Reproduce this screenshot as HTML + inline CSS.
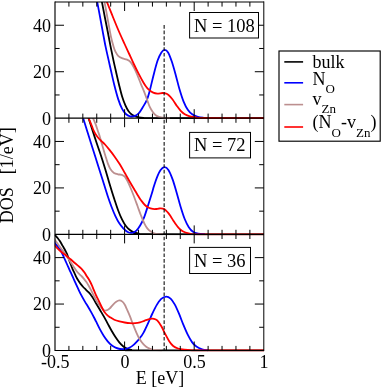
<!DOCTYPE html>
<html><head><meta charset="utf-8"><title>DOS</title><style>html,body{margin:0;padding:0;background:#fff}svg{display:block;will-change:transform}text{font-family:"Liberation Serif",serif;fill:#000}</style></head><body>
<svg width="382" height="388" viewBox="0 0 382 388">
<rect width="382" height="388" fill="#fff"/>
<defs>
<clipPath id="cp1"><rect x="54.70" y="2.00" width="210.00" height="117.40"/></clipPath>
<clipPath id="cp2"><rect x="54.70" y="118.20" width="210.00" height="117.40"/></clipPath>
<clipPath id="cp3"><rect x="54.70" y="234.40" width="210.00" height="117.30"/></clipPath>
</defs>
<g clip-path="url(#cp1)" fill="none" stroke-width="1.80" stroke-linejoin="round">
<path d="M101.00 -3.12 C101.17 -2.22 101.37 -1.05 102.00 2.30 C102.63 5.65 103.85 12.09 104.80 16.96 C105.75 21.83 106.75 26.68 107.70 31.53 C108.65 36.39 109.55 41.32 110.50 46.09 C111.45 50.86 112.52 56.03 113.40 60.15 C114.28 64.27 114.85 66.66 115.80 70.80 C116.75 74.94 118.03 80.62 119.10 84.96 C120.17 89.29 121.15 93.39 122.20 96.81 C123.25 100.23 124.37 103.09 125.40 105.45 C126.43 107.81 127.40 109.52 128.40 110.97 C129.40 112.42 130.27 113.31 131.40 114.18 C132.53 115.05 133.98 115.67 135.20 116.19 C136.42 116.71 137.33 117.02 138.70 117.30 C140.07 117.58 141.52 117.77 143.40 117.90 C145.28 118.03 129.90 118.07 150.00 118.10 C170.10 118.13 245.00 118.10 264.00 118.10" stroke="#000000"/>
<path d="M96.40 -3.12 C96.55 -2.22 96.73 -0.83 97.30 2.30 C97.87 5.43 98.90 10.80 99.80 15.66 C100.70 20.52 101.72 26.18 102.70 31.43 C103.68 36.69 104.72 42.40 105.70 47.19 C106.68 51.98 107.72 56.21 108.60 60.15 C109.48 64.08 110.05 66.66 111.00 70.80 C111.95 74.94 113.10 80.24 114.30 84.96 C115.50 89.68 116.92 95.17 118.20 99.12 C119.48 103.07 120.73 106.18 122.00 108.66 C123.27 111.14 124.47 112.71 125.80 113.98 C127.13 115.25 128.55 115.94 130.00 116.29 C131.45 116.64 133.05 116.58 134.50 116.09 C135.95 115.61 137.30 114.89 138.70 113.38 C140.10 111.87 141.53 109.31 142.90 107.05 C144.27 104.79 145.78 102.45 146.90 99.82 C148.02 97.19 148.48 95.43 149.60 91.28 C150.72 87.13 152.27 80.03 153.60 74.91 C154.93 69.79 156.30 64.30 157.60 60.55 C158.90 56.80 160.22 54.19 161.40 52.42 C162.58 50.65 163.58 49.91 164.70 49.91 C165.82 49.91 166.92 50.48 168.10 52.42 C169.28 54.36 170.53 57.81 171.80 61.56 C173.07 65.31 174.42 70.29 175.70 74.91 C176.98 79.53 178.18 84.83 179.50 89.28 C180.82 93.73 182.22 98.22 183.60 101.63 C184.98 105.04 186.37 107.65 187.80 109.76 C189.23 111.87 190.53 113.11 192.20 114.28 C193.87 115.45 195.90 116.20 197.80 116.79 C199.70 117.38 201.73 117.58 203.60 117.80 C205.47 118.02 208.10 118.05 209.00 118.10" stroke="#0000ff"/>
<path d="M103.70 -3.12 C103.85 -2.22 104.13 -0.31 104.60 2.30 C105.07 4.91 105.80 8.75 106.50 12.55 C107.20 16.35 108.02 20.90 108.80 25.10 C109.58 29.30 110.43 34.25 111.20 37.75 C111.97 41.25 112.72 43.81 113.40 46.09 C114.08 48.37 114.47 49.75 115.30 51.41 C116.13 53.07 117.18 54.86 118.40 56.03 C119.62 57.20 121.17 57.84 122.60 58.44 C124.03 59.04 125.67 59.03 127.00 59.65 C128.33 60.27 129.40 60.75 130.60 62.16 C131.80 63.56 133.03 65.84 134.20 68.08 C135.37 70.32 136.47 72.96 137.60 75.62 C138.72 78.28 139.85 81.34 140.95 84.05 C142.05 86.76 143.14 89.18 144.20 91.89 C145.26 94.60 146.35 97.77 147.30 100.32 C148.25 102.87 148.98 105.25 149.90 107.20 C150.82 109.15 151.83 110.67 152.80 112.00 C153.77 113.33 154.68 114.39 155.70 115.19 C156.72 115.99 157.52 116.36 158.90 116.79 C160.28 117.23 162.15 117.58 164.00 117.80 C165.85 118.02 169.00 118.05 170.00 118.10" stroke="#bc8f8f"/>
<path d="M104.90 -3.12 C105.25 -2.23 105.87 -0.65 107.00 2.20 C108.13 5.04 109.82 9.32 111.70 13.95 C113.58 18.58 116.15 24.99 118.30 30.00 C120.45 35.01 122.78 40.00 124.60 44.00 C126.42 48.00 127.67 50.67 129.20 54.00 C130.73 57.33 132.23 60.72 133.80 64.00 C135.37 67.28 137.00 70.62 138.60 73.71 C140.20 76.80 142.17 80.41 143.40 82.55 C144.63 84.69 145.10 85.37 146.00 86.56 C146.90 87.75 147.60 88.66 148.80 89.68 C150.00 90.70 151.78 92.04 153.20 92.69 C154.62 93.34 155.77 93.54 157.30 93.59 C158.83 93.64 161.05 93.02 162.40 92.99 C163.75 92.96 164.38 93.06 165.40 93.39 C166.42 93.72 167.30 93.98 168.50 95.00 C169.70 96.02 171.23 97.74 172.60 99.52 C173.97 101.30 175.35 103.76 176.70 105.65 C178.05 107.54 179.35 109.43 180.70 110.87 C182.05 112.31 183.27 113.36 184.80 114.28 C186.33 115.20 188.03 115.85 189.90 116.39 C191.77 116.93 193.48 117.23 196.00 117.50 C198.52 117.77 193.67 117.90 205.00 118.00 C216.33 118.10 254.17 118.08 264.00 118.10" stroke="#ff0000"/>
</g>
<g clip-path="url(#cp2)" fill="none" stroke-width="1.80" stroke-linejoin="round">
<path d="M86.80 112.70 C87.10 113.63 87.75 115.68 88.60 118.30 C89.45 120.92 90.60 124.40 91.90 128.40 C93.20 132.40 94.87 137.70 96.40 142.30 C97.93 146.90 99.63 151.55 101.10 156.00 C102.57 160.45 103.88 164.67 105.20 169.00 C106.52 173.33 107.83 178.08 109.00 182.00 C110.17 185.92 111.32 189.67 112.20 192.50 C113.08 195.33 113.32 196.05 114.30 199.00 C115.28 201.95 116.82 206.80 118.10 210.20 C119.38 213.60 120.70 216.77 122.00 219.40 C123.30 222.03 124.58 224.23 125.90 226.00 C127.22 227.77 128.58 228.95 129.90 230.00 C131.22 231.05 132.28 231.70 133.80 232.30 C135.32 232.90 137.25 233.28 139.00 233.60 C140.75 233.92 123.47 234.08 144.30 234.20 C165.13 234.32 244.05 234.28 264.00 234.30" stroke="#000000"/>
<path d="M81.50 112.70 C81.78 113.63 81.90 114.12 83.20 118.30 C84.50 122.48 87.27 131.33 89.30 137.80 C91.33 144.27 93.45 150.96 95.40 157.10 C97.35 163.24 99.63 170.33 101.00 174.65 C102.37 178.97 102.50 179.49 103.60 183.00 C104.70 186.51 106.28 191.75 107.60 195.70 C108.92 199.65 110.20 203.30 111.50 206.70 C112.80 210.10 114.10 213.33 115.40 216.10 C116.70 218.87 117.98 221.27 119.30 223.30 C120.62 225.33 121.82 226.80 123.30 228.30 C124.78 229.80 126.67 231.55 128.20 232.30 C129.73 233.05 131.13 233.08 132.50 232.80 C133.87 232.52 135.10 231.85 136.40 230.60 C137.70 229.35 138.98 227.60 140.30 225.30 C141.62 223.00 142.98 220.18 144.30 216.80 C145.62 213.42 147.00 208.72 148.20 205.00 C149.40 201.28 150.53 197.67 151.50 194.50 C152.47 191.33 153.12 188.78 154.00 186.00 C154.88 183.22 155.70 180.45 156.80 177.80 C157.90 175.15 159.33 171.87 160.60 170.10 C161.87 168.33 163.10 167.23 164.40 167.20 C165.70 167.17 167.05 167.92 168.40 169.90 C169.75 171.88 171.13 175.35 172.50 179.10 C173.87 182.85 175.25 187.80 176.60 192.40 C177.95 197.00 179.25 202.27 180.60 206.70 C181.95 211.13 183.33 215.58 184.70 219.00 C186.07 222.42 187.42 225.07 188.80 227.20 C190.18 229.33 191.45 230.73 193.00 231.80 C194.55 232.87 196.10 233.20 198.10 233.60 C200.10 234.00 203.85 234.10 205.00 234.20" stroke="#0000ff"/>
<path d="M90.20 112.70 C90.68 113.63 92.18 116.35 93.10 118.30 C94.02 120.25 94.92 122.33 95.70 124.40 C96.48 126.47 97.10 128.62 97.80 130.70 C98.50 132.78 99.20 134.63 99.90 136.90 C100.60 139.17 101.32 141.90 102.00 144.30 C102.68 146.70 103.40 149.27 104.00 151.30 C104.60 153.33 104.92 154.35 105.60 156.50 C106.28 158.65 107.25 162.02 108.10 164.20 C108.95 166.38 109.72 168.15 110.70 169.60 C111.68 171.05 112.80 172.12 114.00 172.90 C115.20 173.68 116.60 173.98 117.90 174.30 C119.20 174.62 120.65 174.42 121.80 174.80 C122.95 175.18 123.85 175.53 124.80 176.60 C125.75 177.67 126.53 179.30 127.50 181.20 C128.47 183.10 129.58 185.62 130.60 188.00 C131.62 190.38 132.43 192.45 133.60 195.50 C134.77 198.55 136.37 202.97 137.60 206.30 C138.83 209.63 139.88 212.67 141.00 215.50 C142.12 218.33 143.22 221.12 144.30 223.30 C145.38 225.48 146.42 227.22 147.50 228.60 C148.58 229.98 149.70 230.82 150.80 231.60 C151.90 232.38 152.82 232.88 154.10 233.30 C155.38 233.72 157.02 233.93 158.50 234.10 C159.98 234.27 162.25 234.27 163.00 234.30" stroke="#bc8f8f"/>
<path d="M86.60 112.68 C86.95 113.62 88.07 116.68 88.70 118.30 C89.33 119.92 89.85 121.05 90.40 122.41 C90.95 123.77 91.45 125.06 92.00 126.43 C92.55 127.80 93.03 129.23 93.70 130.64 C94.37 132.04 95.18 133.59 96.00 134.86 C96.82 136.13 97.68 137.22 98.60 138.27 C99.52 139.32 100.43 140.14 101.50 141.18 C102.57 142.22 103.67 143.05 105.00 144.50 C106.33 145.95 107.92 147.92 109.50 149.90 C111.08 151.88 112.78 154.00 114.50 156.40 C116.22 158.80 118.05 161.48 119.80 164.30 C121.55 167.12 123.27 170.27 125.00 173.30 C126.73 176.33 128.47 179.52 130.20 182.50 C131.93 185.48 134.00 188.85 135.40 191.20 C136.80 193.55 137.63 195.05 138.60 196.60 C139.57 198.15 140.15 199.10 141.20 200.50 C142.25 201.90 143.62 203.78 144.90 205.00 C146.18 206.22 147.53 207.15 148.85 207.80 C150.17 208.45 151.61 208.70 152.80 208.90 C153.99 209.10 154.92 209.07 156.00 209.00 C157.08 208.93 158.00 208.52 159.30 208.50 C160.60 208.48 162.38 208.25 163.80 208.90 C165.22 209.55 166.67 211.17 167.80 212.40 C168.93 213.63 169.70 214.97 170.60 216.30 C171.50 217.63 172.33 219.07 173.20 220.40 C174.07 221.73 174.97 223.13 175.80 224.30 C176.63 225.47 177.40 226.50 178.20 227.40 C179.00 228.30 179.77 229.02 180.60 229.70 C181.43 230.38 182.22 230.97 183.20 231.50 C184.18 232.03 185.28 232.52 186.50 232.90 C187.72 233.28 188.58 233.57 190.50 233.80 C192.42 234.03 185.75 234.22 198.00 234.30 C210.25 234.38 253.00 234.30 264.00 234.30" stroke="#ff0000"/>
</g>
<g clip-path="url(#cp3)" fill="none" stroke-width="1.80" stroke-linejoin="round">
<path d="M51.00 230.80 C51.68 231.53 53.97 233.97 55.10 235.20 C56.23 236.43 57.01 237.22 57.80 238.20 C58.59 239.18 59.07 239.87 59.85 241.10 C60.63 242.33 61.73 244.28 62.50 245.60 C63.27 246.92 63.88 247.87 64.50 249.00 C65.12 250.13 65.68 251.32 66.20 252.40 C66.72 253.48 67.13 254.30 67.60 255.50 C68.07 256.70 68.45 258.05 69.00 259.60 C69.55 261.15 70.27 263.13 70.90 264.80 C71.53 266.47 72.18 268.18 72.80 269.60 C73.42 271.02 74.03 272.10 74.60 273.30 C75.17 274.50 75.63 275.68 76.20 276.80 C76.77 277.92 77.27 278.82 78.00 280.00 C78.73 281.18 79.73 282.68 80.60 283.85 C81.47 285.02 82.33 286.04 83.20 287.00 C84.08 287.96 84.97 288.73 85.85 289.60 C86.73 290.47 87.62 291.27 88.50 292.20 C89.38 293.13 90.35 294.23 91.10 295.20 C91.85 296.17 92.18 296.67 93.00 298.00 C93.82 299.33 94.90 301.32 96.00 303.20 C97.10 305.08 98.30 307.10 99.60 309.30 C100.90 311.50 102.45 314.02 103.80 316.40 C105.15 318.78 106.40 321.20 107.70 323.60 C109.00 326.00 110.28 328.52 111.60 330.80 C112.92 333.08 114.28 335.33 115.60 337.30 C116.92 339.27 118.20 341.07 119.50 342.60 C120.80 344.13 122.10 345.45 123.40 346.50 C124.70 347.55 125.98 348.33 127.30 348.90 C128.62 349.47 129.77 349.65 131.30 349.90 C132.83 350.15 114.38 350.32 136.50 350.40 C158.62 350.48 242.75 350.40 264.00 350.40" stroke="#000000"/>
<path d="M52.00 239.20 C52.52 239.87 54.23 242.08 55.10 243.20 C55.97 244.32 56.41 244.88 57.20 245.90 C57.99 246.92 59.05 248.12 59.85 249.30 C60.65 250.48 61.27 251.55 62.00 253.00 C62.73 254.45 63.38 256.17 64.20 258.00 C65.02 259.83 66.03 262.07 66.90 264.00 C67.77 265.93 68.50 267.63 69.40 269.60 C70.30 271.57 71.35 273.70 72.30 275.80 C73.25 277.90 74.15 280.10 75.10 282.20 C76.05 284.30 77.08 286.47 78.00 288.40 C78.92 290.33 79.45 291.60 80.60 293.80 C81.75 296.00 83.63 299.40 84.90 301.60 C86.17 303.80 87.13 305.20 88.20 307.00 C89.27 308.80 90.28 310.57 91.30 312.40 C92.32 314.23 93.53 316.53 94.30 318.00 C95.07 319.47 94.98 319.33 95.90 321.20 C96.83 323.07 98.53 326.73 99.85 329.20 C101.17 331.67 102.49 333.98 103.80 336.00 C105.11 338.02 106.40 339.77 107.70 341.30 C109.00 342.83 110.28 344.15 111.60 345.20 C112.92 346.25 114.18 346.97 115.60 347.60 C117.02 348.23 118.58 348.77 120.10 349.00 C121.62 349.23 123.17 349.20 124.70 349.00 C126.23 348.80 127.77 348.53 129.30 347.80 C130.83 347.07 132.48 345.80 133.90 344.60 C135.32 343.40 136.62 341.93 137.80 340.60 C138.98 339.27 140.02 337.97 141.00 336.60 C141.98 335.23 142.53 334.60 143.70 332.40 C144.87 330.20 146.55 326.55 148.00 323.40 C149.45 320.25 150.93 316.58 152.40 313.50 C153.87 310.42 155.33 307.33 156.80 304.90 C158.27 302.47 159.63 300.28 161.20 298.90 C162.77 297.52 164.63 296.65 166.20 296.60 C167.77 296.55 169.18 297.30 170.60 298.60 C172.02 299.90 173.30 301.88 174.70 304.40 C176.10 306.92 177.57 310.33 179.00 313.70 C180.43 317.07 181.87 321.15 183.30 324.60 C184.73 328.05 186.15 331.48 187.60 334.40 C189.05 337.32 190.53 340.07 192.00 342.10 C193.47 344.13 194.72 345.40 196.40 346.60 C198.08 347.80 200.17 348.68 202.10 349.30 C204.03 349.92 207.02 350.13 208.00 350.30" stroke="#0000ff"/>
<path d="M51.00 235.40 C51.70 236.23 54.17 239.12 55.20 240.40 C56.23 241.68 56.43 242.05 57.20 243.10 C57.98 244.15 59.00 245.55 59.85 246.70 C60.70 247.85 61.47 248.90 62.30 250.00 C63.12 251.10 63.97 252.13 64.80 253.30 C65.63 254.47 66.32 255.52 67.30 257.00 C68.28 258.48 69.60 260.50 70.70 262.20 C71.80 263.90 72.87 265.65 73.90 267.20 C74.93 268.75 75.97 270.32 76.90 271.50 C77.83 272.68 78.75 273.55 79.50 274.30 C80.25 275.05 80.69 275.28 81.40 276.00 C82.11 276.72 82.92 277.60 83.75 278.60 C84.58 279.60 85.58 280.82 86.40 282.00 C87.23 283.18 87.97 284.43 88.70 285.70 C89.43 286.97 90.14 288.32 90.80 289.60 C91.46 290.88 92.05 292.17 92.65 293.40 C93.25 294.63 93.78 295.80 94.40 297.00 C95.03 298.20 95.58 299.27 96.40 300.60 C97.22 301.93 98.33 303.67 99.30 305.00 C100.27 306.33 101.28 307.68 102.20 308.60 C103.12 309.52 103.92 310.27 104.80 310.50 C105.68 310.73 106.67 310.35 107.50 310.00 C108.33 309.65 108.90 309.27 109.80 308.40 C110.70 307.53 111.83 305.90 112.90 304.80 C113.97 303.70 115.13 302.53 116.20 301.80 C117.27 301.07 118.27 300.43 119.30 300.40 C120.33 300.37 121.48 300.87 122.40 301.60 C123.32 302.33 124.03 303.48 124.80 304.80 C125.57 306.12 126.13 307.57 127.00 309.50 C127.87 311.43 128.97 313.83 130.00 316.40 C131.03 318.97 132.12 322.17 133.20 324.90 C134.28 327.63 135.52 330.58 136.50 332.80 C137.48 335.02 138.25 336.67 139.10 338.20 C139.95 339.73 140.68 340.80 141.60 342.00 C142.52 343.20 143.57 344.43 144.60 345.40 C145.63 346.37 146.63 347.13 147.80 347.80 C148.97 348.47 150.23 349.00 151.60 349.40 C152.97 349.80 154.27 350.03 156.00 350.20 C157.73 350.37 161.00 350.37 162.00 350.40" stroke="#bc8f8f"/>
<path d="M51.00 242.40 C51.68 242.98 53.93 244.82 55.10 245.90 C56.27 246.98 56.98 247.92 58.00 248.90 C59.02 249.88 60.12 250.90 61.20 251.80 C62.28 252.70 63.42 253.43 64.50 254.30 C65.58 255.17 66.68 256.17 67.70 257.00 C68.72 257.83 69.37 258.25 70.60 259.30 C71.83 260.35 73.65 262.05 75.10 263.30 C76.55 264.55 78.15 265.80 79.30 266.80 C80.45 267.80 81.13 268.35 82.00 269.30 C82.87 270.25 83.73 271.38 84.50 272.50 C85.27 273.62 85.93 274.95 86.60 276.00 C87.27 277.05 87.88 277.80 88.50 278.80 C89.12 279.80 89.73 280.90 90.30 282.00 C90.87 283.10 91.38 284.22 91.90 285.40 C92.42 286.58 92.88 287.87 93.40 289.10 C93.92 290.33 94.50 291.65 95.00 292.80 C95.50 293.95 95.87 294.87 96.40 296.00 C96.93 297.13 97.38 297.90 98.20 299.60 C99.02 301.30 100.47 304.47 101.30 306.20 C102.13 307.93 102.65 309.00 103.20 310.00 C103.75 311.00 103.88 311.30 104.60 312.20 C105.32 313.10 106.60 314.57 107.50 315.40 C108.40 316.23 108.88 316.48 110.00 317.20 C111.12 317.92 112.67 319.00 114.25 319.70 C115.83 320.40 117.76 320.93 119.50 321.40 C121.24 321.87 122.95 322.20 124.70 322.50 C126.45 322.80 128.25 323.08 130.00 323.20 C131.75 323.32 133.53 323.33 135.20 323.20 C136.87 323.07 138.47 322.80 140.00 322.40 C141.53 322.00 142.73 321.38 144.40 320.80 C146.07 320.22 148.40 319.23 150.00 318.90 C151.60 318.57 152.80 318.55 154.00 318.80 C155.20 319.05 156.00 319.20 157.20 320.40 C158.40 321.60 159.87 323.73 161.20 326.00 C162.53 328.27 163.87 331.47 165.20 334.00 C166.53 336.53 167.87 339.20 169.20 341.20 C170.53 343.20 171.73 344.78 173.20 346.00 C174.67 347.22 176.13 347.88 178.00 348.50 C179.87 349.12 182.07 349.40 184.40 349.70 C186.73 350.00 189.40 350.18 192.00 350.30 C194.60 350.42 188.00 350.38 200.00 350.40 C212.00 350.42 253.33 350.40 264.00 350.40" stroke="#ff0000"/>
</g>
<line x1="164.15" y1="25.05" x2="164.15" y2="350.50" stroke="#111" stroke-width="1.1" stroke-dasharray="3.65 1.92"/>
<path d="M68.92 2.00 v4.60 M68.92 118.20 v-4.60 M82.84 2.00 v4.60 M82.84 118.20 v-4.60 M96.76 2.00 v4.60 M96.76 118.20 v-4.60 M110.68 2.00 v4.60 M110.68 118.20 v-4.60 M124.60 2.00 v9.00 M124.60 118.20 v-9.00 M138.52 2.00 v4.60 M138.52 118.20 v-4.60 M152.44 2.00 v4.60 M152.44 118.20 v-4.60 M166.36 2.00 v4.60 M166.36 118.20 v-4.60 M180.28 2.00 v4.60 M180.28 118.20 v-4.60 M194.20 2.00 v9.00 M194.20 118.20 v-9.00 M208.12 2.00 v4.60 M208.12 118.20 v-4.60 M222.04 2.00 v4.60 M222.04 118.20 v-4.60 M235.96 2.00 v4.60 M235.96 118.20 v-4.60 M249.88 2.00 v4.60 M249.88 118.20 v-4.60 M55.00 94.96 h4.60 M263.80 94.96 h-4.60 M55.00 71.72 h9.00 M263.80 71.72 h-9.00 M55.00 48.48 h4.60 M263.80 48.48 h-4.60 M55.00 25.24 h9.00 M263.80 25.24 h-9.00 M68.92 118.20 v4.60 M68.92 234.40 v-4.60 M82.84 118.20 v4.60 M82.84 234.40 v-4.60 M96.76 118.20 v4.60 M96.76 234.40 v-4.60 M110.68 118.20 v4.60 M110.68 234.40 v-4.60 M124.60 118.20 v9.00 M124.60 234.40 v-9.00 M138.52 118.20 v4.60 M138.52 234.40 v-4.60 M152.44 118.20 v4.60 M152.44 234.40 v-4.60 M166.36 118.20 v4.60 M166.36 234.40 v-4.60 M180.28 118.20 v4.60 M180.28 234.40 v-4.60 M194.20 118.20 v5.00 M194.20 234.40 v-9.00 M208.12 118.20 v4.60 M208.12 234.40 v-4.60 M222.04 118.20 v4.60 M222.04 234.40 v-4.60 M235.96 118.20 v4.60 M235.96 234.40 v-4.60 M249.88 118.20 v4.60 M249.88 234.40 v-4.60 M55.00 211.16 h4.60 M263.80 211.16 h-4.60 M55.00 187.92 h9.00 M263.80 187.92 h-9.00 M55.00 164.68 h4.60 M263.80 164.68 h-4.60 M55.00 141.44 h9.00 M263.80 141.44 h-9.00 M68.92 234.40 v4.60 M68.92 350.50 v-4.60 M82.84 234.40 v4.60 M82.84 350.50 v-4.60 M96.76 234.40 v4.60 M96.76 350.50 v-4.60 M110.68 234.40 v4.60 M110.68 350.50 v-4.60 M124.60 234.40 v9.00 M124.60 350.50 v-9.00 M138.52 234.40 v4.60 M138.52 350.50 v-4.60 M152.44 234.40 v4.60 M152.44 350.50 v-4.60 M166.36 234.40 v4.60 M166.36 350.50 v-4.60 M180.28 234.40 v4.60 M180.28 350.50 v-4.60 M194.20 234.40 v9.00 M194.20 350.50 v-9.00 M208.12 234.40 v4.60 M208.12 350.50 v-4.60 M222.04 234.40 v4.60 M222.04 350.50 v-4.60 M235.96 234.40 v4.60 M235.96 350.50 v-4.60 M249.88 234.40 v4.60 M249.88 350.50 v-4.60 M55.00 327.28 h4.60 M263.80 327.28 h-4.60 M55.00 304.06 h9.00 M263.80 304.06 h-9.00 M55.00 280.84 h4.60 M263.80 280.84 h-4.60 M55.00 257.62 h9.00 M263.80 257.62 h-9.00" stroke="#000" stroke-width="1.00" fill="none"/>
<path d="M55.00 1.40 V351.05" stroke="#000" stroke-width="1.15" fill="none"/>
<path d="M263.80 1.40 V351.05" stroke="#000" stroke-width="1.0" fill="none"/>
<path d="M55.00 2.00 H263.80" stroke="#000" stroke-width="1.2" fill="none"/>
<path d="M55.00 118.20 H263.80 M55.00 234.40 H263.80" stroke="#000" stroke-width="1.3" fill="none"/>
<path d="M55.00 350.50 H263.80" stroke="#000" stroke-width="1.1" fill="none"/>
<text x="50.9" y="124.60" font-size="18" text-anchor="end">0</text>
<text x="50.9" y="78.12" font-size="18" text-anchor="end">20</text>
<text x="50.9" y="31.64" font-size="18" text-anchor="end">40</text>
<text x="50.9" y="240.80" font-size="18" text-anchor="end">0</text>
<text x="50.9" y="194.32" font-size="18" text-anchor="end">20</text>
<text x="50.9" y="147.84" font-size="18" text-anchor="end">40</text>
<text x="50.9" y="356.90" font-size="18" text-anchor="end">0</text>
<text x="50.9" y="310.46" font-size="18" text-anchor="end">20</text>
<text x="50.9" y="264.02" font-size="18" text-anchor="end">40</text>
<text x="55.30" y="367.8" font-size="18" text-anchor="middle">-0.5</text>
<text x="124.90" y="367.8" font-size="18" text-anchor="middle">0</text>
<text x="194.50" y="367.8" font-size="18" text-anchor="middle">0.5</text>
<text x="264.10" y="367.8" font-size="18" text-anchor="middle">1</text>
<text x="160" y="384.1" font-size="18" text-anchor="middle">E [eV]</text>
<text transform="translate(13.4 223.2) rotate(-90)" font-size="18">DOS</text>
<text transform="translate(13.4 174.2) rotate(-90)" font-size="18">[1/eV]</text>
<rect x="189.60" y="12.50" width="68.90" height="25.50" fill="#fff" stroke="#000" stroke-width="1.0"/>
<text x="194.0" y="31.80" font-size="18.5">N = 108</text>
<rect x="189.60" y="132.40" width="60.90" height="25.50" fill="#fff" stroke="#000" stroke-width="1.0"/>
<text x="194.0" y="151.30" font-size="18.5">N = 72</text>
<rect x="189.60" y="247.40" width="60.90" height="26.10" fill="#fff" stroke="#000" stroke-width="1.0"/>
<text x="194.0" y="267.30" font-size="18.5">N = 36</text>
<rect x="279.0" y="51.0" width="101.2" height="90.2" fill="#fff" stroke="#000" stroke-width="1.15"/>
<line x1="284.3" y1="61.9" x2="303.1" y2="61.9" stroke="#000000" stroke-width="1.6"/>
<line x1="284.3" y1="82.8" x2="303.1" y2="82.8" stroke="#0000ff" stroke-width="1.6"/>
<line x1="284.3" y1="104.6" x2="303.1" y2="104.6" stroke="#bc8f8f" stroke-width="1.6"/>
<line x1="284.3" y1="127.0" x2="303.1" y2="127.0" stroke="#ff0000" stroke-width="1.6"/>
<text x="312.6" y="67.9" font-size="18">bulk</text>
<text x="312.6" y="85.3" font-size="18">N<tspan font-size="13" dy="7.2">O</tspan></text>
<text x="312.6" y="105.4" font-size="18">v<tspan font-size="13" dy="7.8">Zn</tspan></text>
<text x="312.6" y="128" font-size="18">(N<tspan font-size="13" dy="8.5">O</tspan><tspan dy="-8.5">-v</tspan><tspan font-size="13" dy="8.5">Zn</tspan><tspan dy="-8.5">)</tspan></text>
</svg></body></html>
